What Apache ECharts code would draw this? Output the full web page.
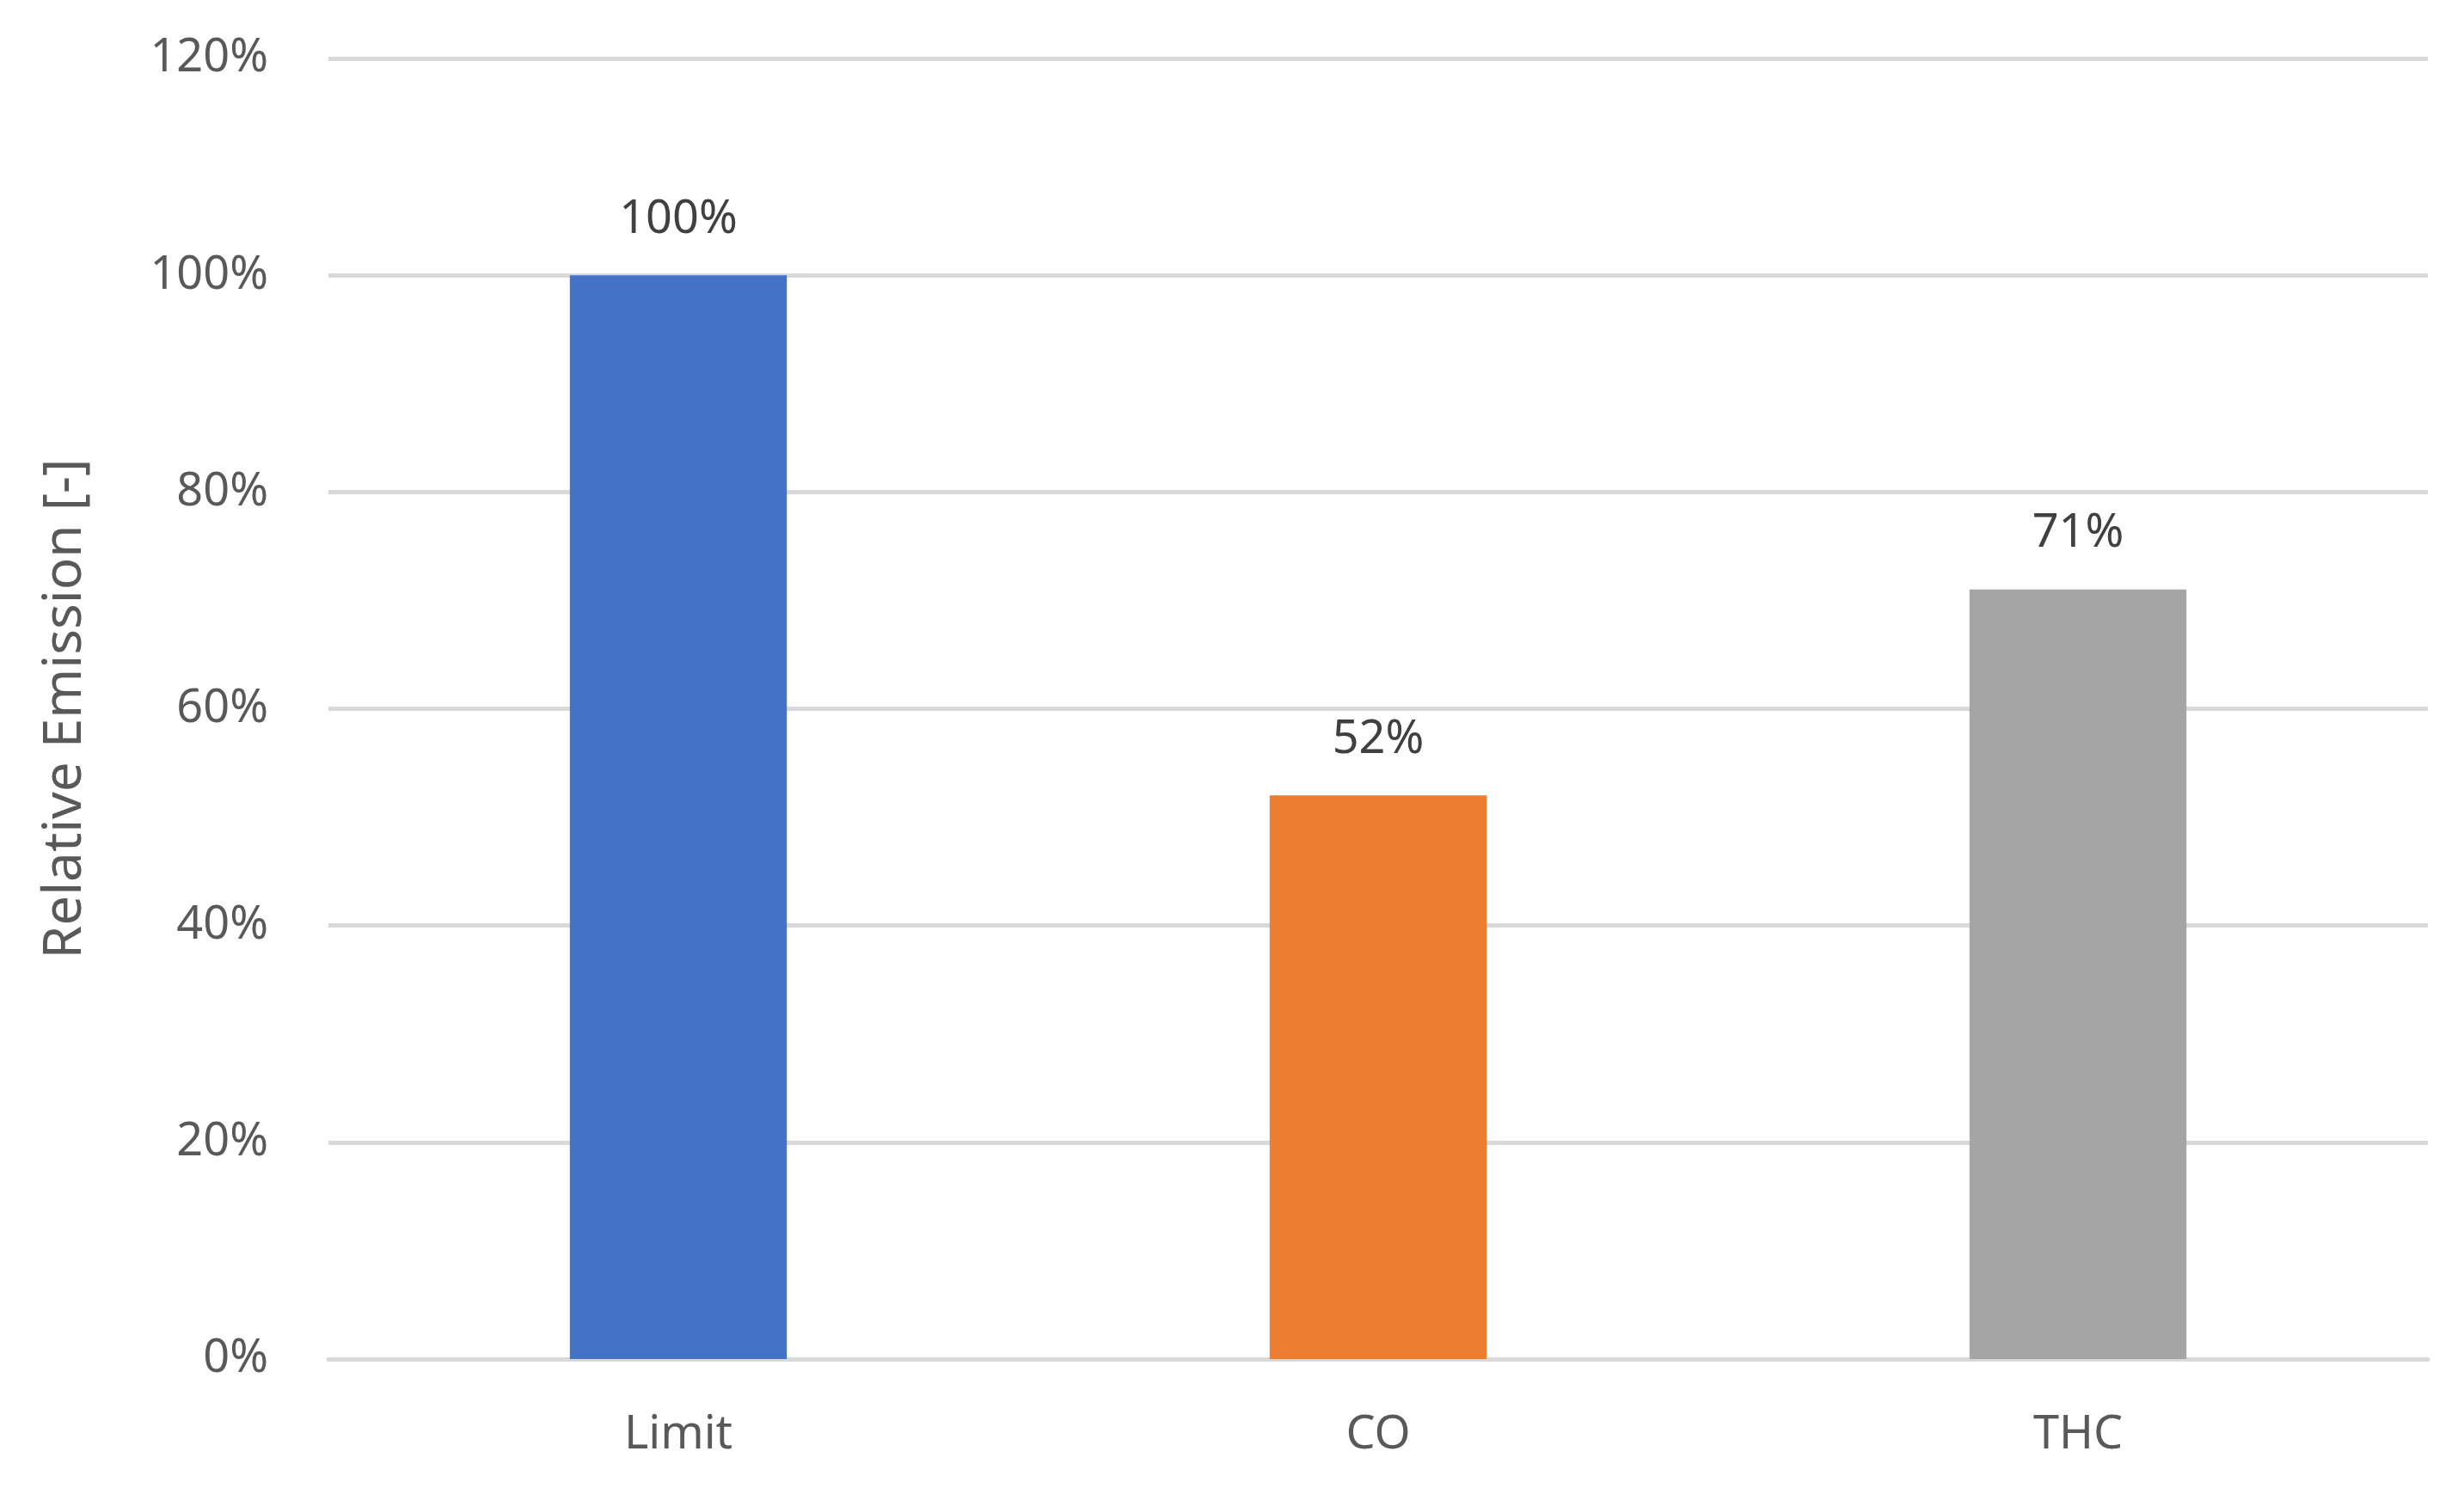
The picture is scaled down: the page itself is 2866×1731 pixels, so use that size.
<!DOCTYPE html>
<html>
<head>
<meta charset="utf-8">
<script src="https://cdn.jsdelivr.net/npm/echarts@6/dist/echarts.min.js"></script>
<style>
  html, body { margin: 0; padding: 0; background: #fff; }
  #chart { width: 2866px; height: 1731px; }
</style>
</head>
<body>
<div id="chart"></div>
<script>
const categories = ['Limit', 'CO', 'THC'];
const values = [100, 52, 71];
const barColors = ['#4472C4', '#ED7D31', '#A5A5A5'];

const chart = echarts.init(document.getElementById('chart'));
const font = 'Noto Sans';

chart.setOption({
    animation: false,
    grid: { left: 382, right: 42, top: 68, bottom: 150 },
    xAxis: {
        type: 'category',
        data: categories,
        axisLine: { lineStyle: { color: '#d9d9d9', width: 5 } },
        axisTick: { show: false },
        axisLabel: { color: '#595959', fontSize: 54, fontFamily: font, margin: 62 }
    },
    yAxis: {
        type: 'value',
        min: 0,
        max: 120,
        interval: 20,
        name: 'Relative Emission [-]',
        nameLocation: 'middle',
        nameGap: 275,
        nameTextStyle: { color: '#595959', fontSize: 62, fontFamily: font },
        axisLine: { show: false },
        axisTick: { show: false },
        axisLabel: { color: '#595959', fontSize: 54, fontFamily: font, margin: 70, formatter: '{value}%' },
        splitLine: { lineStyle: { color: '#d9d9d9', width: 5 } }
    },
    series: [{
        type: 'bar',
        barWidth: '31%',
        data: values.map((v, i) => ({ value: v, itemStyle: { color: barColors[i] } })),
        label: {
            show: true,
            position: 'top',
            distance: 38,
            color: '#404040',
            fontSize: 54,
            fontFamily: font,
            formatter: '{c}%'
        }
    }]
});
</script>
</body>
</html>
